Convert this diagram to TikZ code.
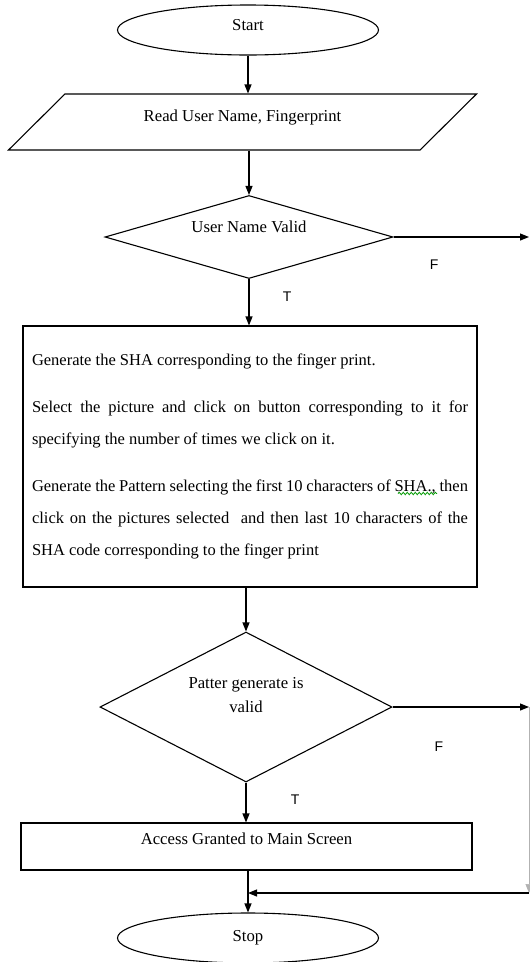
\documentclass[tikz,border=0pt]{standalone}
\usepackage{fontspec}
\setmainfont{Liberation Serif}
\newfontfamily\tfsans{Liberation Sans}
\usetikzlibrary{shapes.geometric,arrows.meta,decorations.pathmorphing}

\begin{document}
\begin{tikzpicture}[x=1pt,y=-1pt,font=\fontsize{16.7}{24}\selectfont,
    term/.style={ellipse,draw,line width=1.1pt,minimum width=261pt,minimum height=50pt,inner sep=0pt},
    io/.style={trapezium,trapezium left angle=43,trapezium right angle=137,trapezium stretches=true,
        draw,line width=1.1pt,minimum width=469pt,minimum height=56pt},
    cond/.style={diamond,draw,line width=1.1pt,inner sep=0pt},
    proc/.style={rectangle,draw,line width=1.1pt},
    arr/.style={-{Triangle[length=9pt,width=7pt]},line width=1.1pt},
    tf/.style={font=\tfsans\fontsize{14}{16}\selectfont}]

        \useasboundingbox (0,0) rectangle (530,962);

        \node[term,text depth=10pt] (start) at (248,30) {Start};
        \node[io,text depth=12pt] (read) at (242.5,122) {Read User Name, Fingerprint};
        \node[cond,minimum width=288pt,minimum height=83pt,
            label={[yshift=10pt]center:User Name Valid}] (valid) at (249,237) {};
        \node[proc,minimum width=454pt,minimum height=261pt,text width=436pt,inner xsep=9pt,
            align=justify,font=\fontsize{16.5}{32}\selectfont] (sha) at (250,456.5)
            {\setlength{\parskip}{15pt}Generate the SHA corresponding to the finger print.\par
             Select the picture and click on button corresponding to it for\linebreak
             specifying the number of times we click on it.\par
             Generate the Pattern selecting the first 10 characters of SHA., then\linebreak
             click on the pictures selected\ \ and then last 10 characters of the\linebreak
             SHA code corresponding to the finger print};
        \node[cond,minimum width=292pt,minimum height=150pt,
            label={[yshift=12pt,align=center]center:Patter generate is\\valid}] (check) at (246,707) {};
        \node[proc,minimum width=451pt,minimum height=47pt,text depth=15pt] (grant) at (246.5,846.5)
            {Access Granted to Main Screen};
        \node[term] (stop) at (248,938) {Stop};

        % grammar mark under SHA.,
        \draw[green!60!black,line width=.8pt,decorate,decoration={snake,amplitude=1.2pt,segment length=4pt}]
            (398,493.5) -- (437,493.5);

        \coordinate (f1) at (529,237); \coordinate (f2) at (529,707); \coordinate (j2) at (529,893);

        \draw[arr] (start) -- (start |- read.north);
        \draw[arr] (read.south -| valid) -- (valid.north);
        \draw[arr] (valid.east) -- node[tf,pos=.3,below=19pt] {F} (f1);
        \draw[arr] (valid.south) -- node[tf,pos=.37,right=30pt] {T} (valid.south |- sha.north);
        \draw[arr] (sha.south -| check) -- (check.north);
        \draw[arr] (check.east) -- node[tf,pos=.34,below=31pt] {F} (f2);
        \draw[arr,gray!60,line width=.6pt] (f2) -- (j2);
        \draw[arr] (j2) -- (j2 -| stop);
        \draw[arr] (check.south) -- node[tf,pos=.44,right=41pt] {T} (check.south |- grant.north);
        \draw[arr] (grant.south -| stop) -- (stop.north);

\end{tikzpicture}
\end{document}
